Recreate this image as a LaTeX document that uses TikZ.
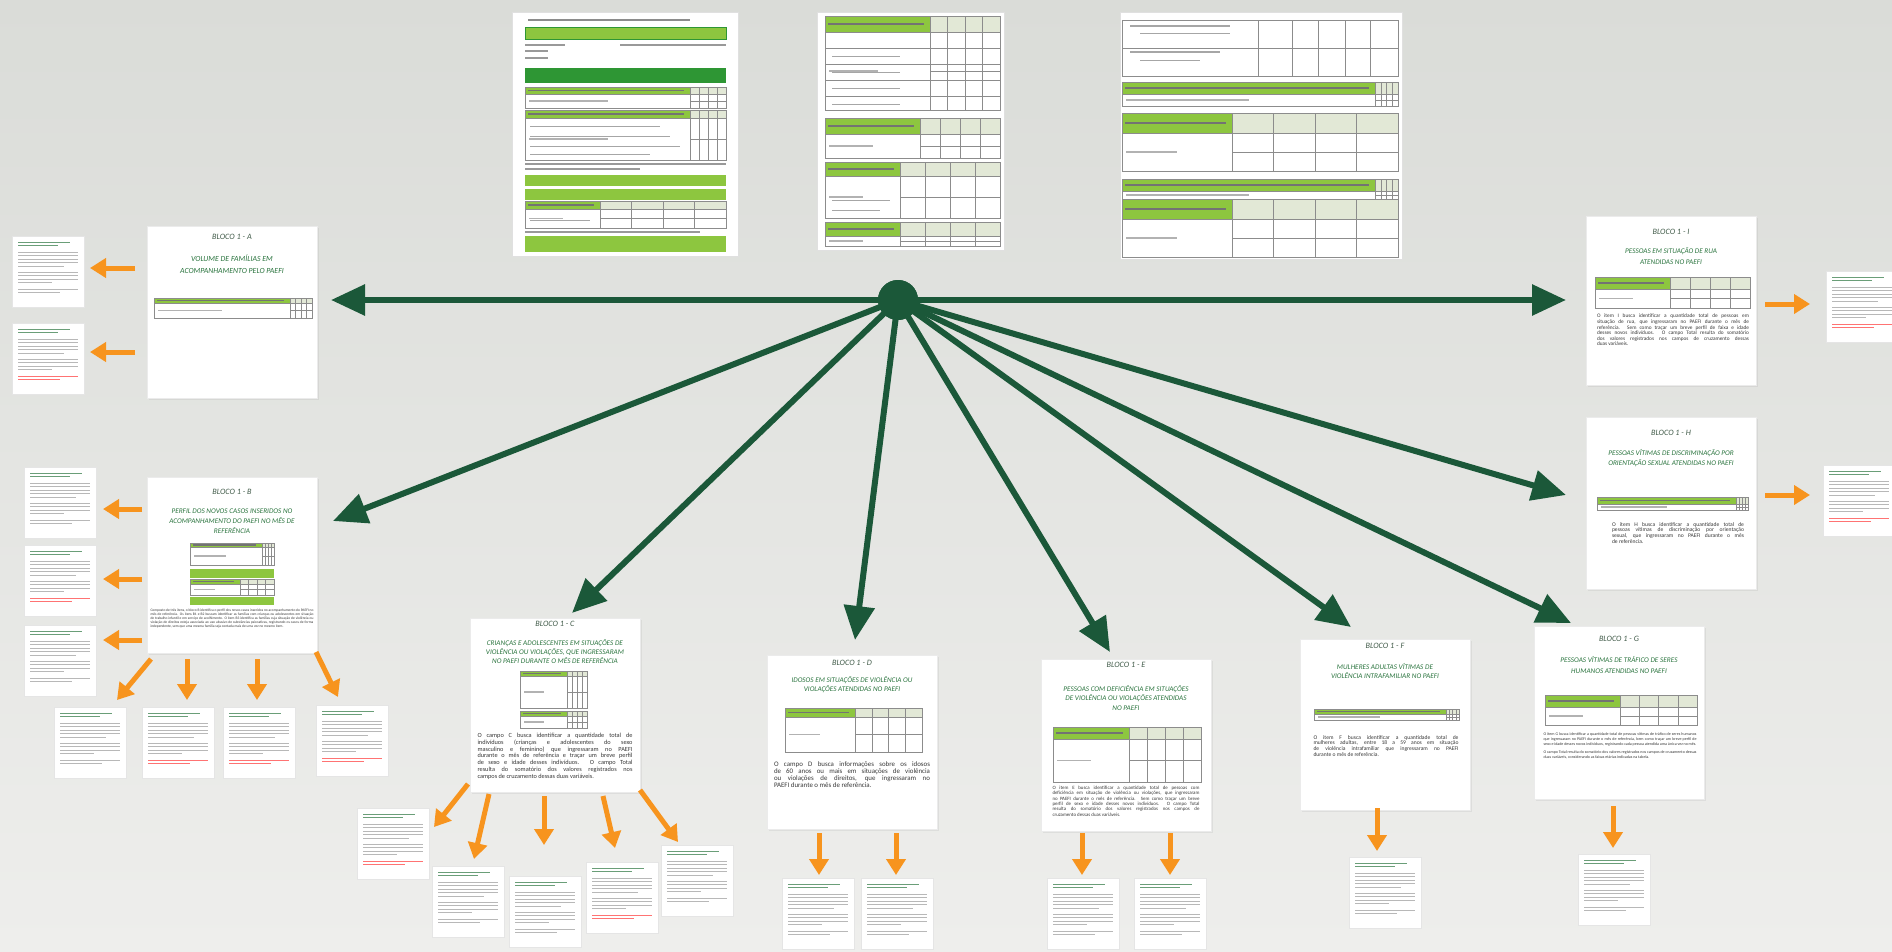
\documentclass[tikz,border=0pt]{standalone}
\usepackage{fontspec}
\setmainfont{Carlito}
\usetikzlibrary{positioning,arrows.meta,calc,shadows}

\definecolor{hubgreen}{RGB}{27,88,57}
\definecolor{titlegreen}{RGB}{42,116,62}
\definecolor{labelgray}{RGB}{66,92,74}
\definecolor{tabgreen}{RGB}{141,198,63}
\definecolor{darkgreen}{RGB}{46,150,52}
\definecolor{cellbeige}{RGB}{226,232,214}
\definecolor{arroworange}{RGB}{247,148,30}
\definecolor{bgtop}{RGB}{218,220,216}
\definecolor{bgbottom}{RGB}{238,238,236}

% small table with a green header
\newcommand{\gtable}[6]{%
  \fill[white] (#1,#2) rectangle (#5,#6);
  \fill[tabgreen] (#1,#2) rectangle (#3,#4);
  \fill[cellbeige] (#3,#2) rectangle (#5,#4);
  \draw[tabtext] ({#1+3},{(#2+#4)/2}) -- ({#3-6},{(#2+#4)/2});
  \draw[tabtext, black!30] ({#1+4},{(#4+#6)/2}) -- ({(#1+#3)/2},{(#4+#6)/2});
  \foreach \f in {0.25,0.5,0.75}
    \draw[tabrule] ({#3+\f*(#5-#3)},#2) -- ({#3+\f*(#5-#3)},#6);
  \draw[tabrule] (#3,{(#4+#6)/2}) -- (#5,{(#4+#6)/2});
  \draw[tabrule] (#1,#2) rectangle (#5,#6);
  \draw[tabrule] (#1,#4) -- (#5,#4);
  \draw[tabrule] (#3,#2) -- (#3,#6);
}

% thumbnail of a text page
\newcommand{\thumb}[4][black!28]{%
  \node[thumbbox] (#2) at (#3,#4) {};
  \foreach \k/\w in {6/52,9.5/40}
    \draw[thumbline, titlegreen!70] ($(#2.north west)+(6,\k)$) -- ++(\w,0);
  \foreach \k/\w in {16/60,19.5/60,23/60,26.5/60,30/46,36/60,39.5/60,43/60,46.5/34}
    \draw[thumbline] ($(#2.north west)+(6,\k)$) -- ++(\w,0);
  \foreach \k/\w in {53/60,56.5/42}
    \draw[thumbline, #1] ($(#2.north west)+(6,\k)$) -- ++(\w,0);
}

\begin{document}
\begin{tikzpicture}[x=1pt, y=-1pt,
    card/.style={draw=black!8, fill=white, minimum width=170pt, inner sep=0pt,
      drop shadow={opacity=0.12, shadow xshift=1.5pt, shadow yshift=-1.5pt}},
    blabel/.style={font=\fontsize{8.2}{9}\selectfont\itshape, text=labelgray},
    btitle/.style={font=\fontsize{7.2}{9.8}\selectfont\itshape, text=titlegreen, align=center, inner sep=0pt},
    body/.style={text=black!78, align=justify, inner sep=0pt, anchor=north},
    thumbbox/.style={draw=black!10, fill=white, minimum width=72pt, minimum height=71pt,
      anchor=north west, inner sep=0pt},
    thumbline/.style={line width=0.9pt, black!28},
    tabrule/.style={line width=0.5pt, black!45},
    tabtext/.style={line width=1.2pt, black!55},
    docline/.style={line width=1pt, black!35},
    docbox/.style={draw=black!12, fill=white, anchor=north west, inner sep=0pt},
    bigarrow/.style={line width=6pt, hubgreen, -{Triangle[length=34pt,width=30pt]}},
    oarrow/.style={line width=5pt, arroworange, -{Triangle[length=16pt,width=19pt]}}
  ]
  \useasboundingbox (0,0) rectangle (1892,951);
  \shade[top color=bgtop, bottom color=bgbottom] (0,0) rectangle (1892,951);

  %--- form pages on top ---
  \node[docbox, minimum width=226pt, minimum height=244pt] (doc1) at (512,12) {};
  \draw[tabtext, black!45] (528,20) -- (690,20);
  \draw[darkgreen, fill=tabgreen] (525,27) rectangle (726,39);
  \draw[tabtext, black!40] (525,45) -- (565,45) (620,45) -- (726,45) (525,51) -- (548,51) (525,58) -- (548,58);
  \fill[darkgreen] (525,68) rectangle (726,83);
  \gtable{525}{87}{690}{94}{726}{108}
  \gtable{525}{110}{690}{118}{726}{160}
  \draw[docline] (530,126) -- (660,126) (530,136) -- (670,136) (530,146) -- (680,146) (530,154) -- (650,154);
  \draw[tabtext, black!40] (525,164) -- (726,164) (525,169) -- (640,169);
  \fill[tabgreen] (525,175) rectangle (726,186);
  \fill[tabgreen] (525,189) rectangle (726,200);
  \gtable{525}{201}{600}{209}{726}{228}
  \draw[docline] (530,220) -- (590,220);
  \draw[tabtext, black!40] (525,232) -- (700,232);
  \fill[tabgreen] (525,236) rectangle (726,252);

  \node[docbox, minimum width=187pt, minimum height=238pt] (doc2) at (817,12) {};
  \gtable{825}{16}{930}{32}{1000}{110}
  \foreach \r in {48,64,80,96}
    \draw[tabrule] (825,\r) -- (1000,\r);
  \draw[docline] (832,56) -- (900,56) (832,72) -- (900,72) (832,88) -- (900,88) (832,104) -- (900,104);
  \gtable{825}{118}{920}{134}{1000}{158}
  \gtable{825}{162}{900}{176}{1000}{218}
  \draw[docline] (832,200) -- (890,200) (832,210) -- (880,210);
  \gtable{825}{222}{900}{236}{1000}{246}

  \node[docbox, minimum width=282pt, minimum height=247pt] (doc3) at (1120,12) {};
  \draw[tabrule] (1122,20) rectangle (1398,76);
  \foreach \c in {1258,1292,1318,1345,1370}
    \draw[tabrule] (\c,20) -- (\c,76);
  \draw[tabrule] (1122,48) -- (1398,48);
  \draw[tabtext, black!35] (1130,26) -- (1230,26) (1130,52) -- (1220,52);
  \draw[docline] (1140,33) -- (1230,33) (1140,60) -- (1200,60);
  \gtable{1122}{82}{1375}{94}{1398}{106}
  \gtable{1122}{113}{1232}{133}{1398}{171}
  \gtable{1122}{179}{1375}{191}{1398}{199}
  \gtable{1122}{199}{1232}{219}{1398}{257}

  %--- side pages ---
  \thumb{ta1}{12}{236}
  \thumb[red!55]{ta2}{12}{323}
  \thumb{tb1}{24}{467}
  \thumb[red!55]{tb2}{24}{545}
  \thumb{tb3}{24}{625}
  \thumb{tb4}{54}{707}
  \thumb[red!55]{tb5}{142}{707}
  \thumb[red!55]{tb6}{223}{707}
  \thumb[red!55]{tb7}{316}{705}
  \thumb[red!55]{tc1}{357}{808}
  \thumb{tc2}{432}{866}
  \thumb{tc3}{509}{876}
  \thumb[red!55]{tc4}{586}{862}
  \thumb{tc5}{661}{845}
  \thumb{td1}{782}{878}
  \thumb{td2}{861}{878}
  \thumb{te1}{1047}{878}
  \thumb{te2}{1134}{878}
  \thumb{tf1}{1349}{857}
  \thumb{tg1}{1578}{854}
  \thumb[red!55]{ti1}{1826}{271}
  \thumb[red!55]{th1}{1823}{465}

  %--- cards ---
  \node[card, minimum height=172pt] (blocoA) at (232,312) {};
  \node[card, minimum height=176pt] (blocoB) at (232,565) {};
  \node[card, minimum height=174pt] (blocoC) at (555,705) {};
  \node[card, minimum height=174pt] (blocoD) at (852,742) {};
  \node[card, minimum height=172pt] (blocoE) at (1126,745) {};
  \node[card, minimum height=171pt] (blocoF) at (1385,725) {};
  \node[card, minimum height=173pt] (blocoG) at (1619,713) {};
  \node[card, minimum height=172pt] (blocoH) at (1671,503) {};
  \node[card, minimum height=169pt] (blocoI) at (1671,301) {};

  %--- bloco A ---
  \node[blabel] (labA) at (232,237) {BLOCO 1 - A};
  \node[btitle, font=\fontsize{7.8}{12}\selectfont\itshape] (titA) at (232,264)
    {VOLUME DE FAMÍLIAS EM\\ACOMPANHAMENTO PELO PAEFI};
  \gtable{154}{298}{290}{303}{312}{318}

  %--- bloco B ---
  \node[blabel] (labB) at (232,492) {BLOCO 1 - B};
  \node[btitle] (titB) at (232,521)
    {PERFIL DOS NOVOS CASOS INSERIDOS NO\\ACOMPANHAMENTO DO PAEFI NO MÊS DE\\REFERÊNCIA};
  \gtable{190}{543}{262}{547}{274}{565}
  \fill[tabgreen] (190,569) rectangle (274,578);
  \gtable{190}{579}{240}{584}{274}{595}
  \fill[tabgreen] (190,597) rectangle (274,605);
  \node[body, text width=163pt, font=\fontsize{3.6}{3.9}\selectfont] (txtB) at (232,609)
    {Composto de três itens, o bloco B identifica o perfil dos novos casos inseridos no acompanhamento do PAEFI no mês de referência. Os itens B1 e B2 buscam identificar as famílias com crianças ou adolescentes em situação de trabalho infantil e em serviço de acolhimento. O item B3 identifica as famílias cuja situação de violência ou violação de direitos esteja associada ao uso abusivo de substâncias psicoativas, registrando os casos de forma independente, sem que uma mesma família seja contada mais de uma vez no mesmo item.};

  %--- bloco C ---
  \node[blabel] (labC) at (555,624) {BLOCO 1 - C};
  \node[btitle, font=\fontsize{7.2}{9}\selectfont\itshape] (titC) at (555,652)
    {CRIANÇAS E ADOLESCENTES EM SITUAÇÕES DE\\VIOLÊNCIA OU VIOLAÇÕES, QUE INGRESSARAM\\NO PAEFI DURANTE O MÊS DE REFERÊNCIA};
  \gtable{520}{671}{567}{676}{587}{708}
  \gtable{520}{711}{567}{716}{587}{728}
  \node[body, text width=155pt, font=\fontsize{6.3}{6.8}\selectfont] (txtC) at (555,733)
    {O campo C busca identificar a quantidade total de\linebreak indivíduos (crianças e adolescentes do sexo\linebreak masculino e feminino) que ingressaram no PAEFI\linebreak durante o mês de referência e traçar um breve perfil\linebreak de sexo e idade desses indivíduos. O campo Total\linebreak resulta do somatório dos valores registrados nos\linebreak campos de cruzamento dessas duas variáveis.};

  %--- bloco D ---
  \node[blabel] (labD) at (852,663) {BLOCO 1 - D};
  \node[btitle, font=\fontsize{7.2}{9}\selectfont\itshape] (titD) at (852,685)
    {IDOSOS EM SITUAÇÕES DE VIOLÊNCIA OU\\VIOLAÇÕES ATENDIDAS NO PAEFI};
  \gtable{785}{708}{855}{717}{922}{752}
  \node[body, text width=156pt, font=\fontsize{6.9}{7.3}\selectfont] (txtD) at (852,761)
    {O campo D busca informações sobre os idosos\linebreak de 60 anos ou mais em situações de violência\linebreak ou violações de direitos, que ingressaram no\linebreak PAEFI durante o mês de referência.};

  %--- bloco E ---
  \node[blabel] (labE) at (1126,665) {BLOCO 1 - E};
  \node[btitle] (titE) at (1126,698)
    {PESSOAS COM DEFICIÊNCIA EM SITUAÇÕES\\DE VIOLÊNCIA OU VIOLAÇÕES ATENDIDAS\\NO PAEFI};
  \gtable{1053}{727}{1129}{739}{1201}{782}
  \node[body, text width=147pt, font=\fontsize{4.9}{5.3}\selectfont] (txtE) at (1126,786)
    {O item E busca identificar a quantidade total de pessoas com\linebreak deficiência em situação de violência ou violações, que ingressaram\linebreak no PAEFI durante o mês de referência. Sem como traçar um breve\linebreak perfil de sexo e idade desses novos indivíduos. O campo Total\linebreak resulta do somatório dos valores registrados nos campos de\linebreak cruzamento dessas duas variáveis.};

  %--- bloco F ---
  \node[blabel] (labF) at (1385,646) {BLOCO 1 - F};
  \node[btitle] (titF) at (1385,671)
    {MULHERES ADULTAS VÍTIMAS DE\\VIOLÊNCIA INTRAFAMILIAR NO PAEFI};
  \gtable{1314}{709}{1446}{714}{1459}{720}
  \node[body, text width=145pt, font=\fontsize{5.6}{5.7}\selectfont] (txtF) at (1386,735)
    {O item F busca identificar a quantidade total de\linebreak mulheres adultas, entre 18 a 59 anos em situação\linebreak de violência intrafamiliar que ingressaram no PAEFI\linebreak durante o mês de referência.};

  %--- bloco G ---
  \node[blabel] (labG) at (1619,639) {BLOCO 1 - G};
  \node[btitle, font=\fontsize{7.2}{11}\selectfont\itshape] (titG) at (1619,665)
    {PESSOAS VÍTIMAS DE TRÁFICO DE SERES\\HUMANOS ATENDIDAS NO PAEFI};
  \gtable{1545}{695}{1620}{707}{1697}{725}
  \node[body, text width=153pt, font=\fontsize{4}{4.9}\selectfont] (txtG) at (1620,733)
    {O item G busca identificar a quantidade total de pessoas vítimas de tráfico de seres humanos que ingressaram no PAEFI durante o mês de referência, bem como traçar um breve perfil de sexo e idade desses novos indivíduos, registrando cada pessoa atendida uma única vez no mês.\par\vspace{3pt}
     O campo Total resulta do somatório dos valores registrados nos campos de cruzamento dessas duas variáveis, considerando as faixas etárias indicadas na tabela.};

  %--- bloco H ---
  \node[blabel] (labH) at (1671,433) {BLOCO 1 - H};
  \node[btitle, font=\fontsize{7.2}{10.5}\selectfont\itshape] (titH) at (1671,458)
    {PESSOAS VÍTIMAS DE DISCRIMINAÇÃO POR\\ORIENTAÇÃO SEXUAL ATENDIDAS NO PAEFI};
  \gtable{1597}{497}{1736}{504}{1748}{510}
  \node[body, text width=132pt, font=\fontsize{5.6}{5.8}\selectfont] (txtH) at (1678,522)
    {O item H busca identificar a quantidade total de\linebreak pessoas vítimas de discriminação por orientação\linebreak sexual, que ingressaram no PAEFI durante o mês\linebreak de referência.};

  %--- bloco I ---
  \node[blabel] (labI) at (1671,232) {BLOCO 1 - I};
  \node[btitle, font=\fontsize{7.2}{10.5}\selectfont\itshape] (titI) at (1671,256)
    {PESSOAS EM SITUAÇÃO DE RUA\\ATENDIDAS NO PAEFI};
  \gtable{1595}{277}{1670}{289}{1750}{308}
  \node[body, text width=152pt, font=\fontsize{5.3}{5.6}\selectfont] (txtI) at (1673,314)
    {O item I busca identificar a quantidade total de pessoas em\linebreak situação de rua, que ingressaram no PAEFI durante o mês de\linebreak referência. Sem como traçar um breve perfil de faixa e idade\linebreak desses novos indivíduos. O campo Total resulta do somatório\linebreak dos valores registrados nos campos de cruzamento dessas\linebreak duas variáveis.};

  %--- orange arrows ---
  \foreach \n/\sx/\sy/\ex/\ey in {a1/135/268/90/268, a2/135/352/90/352,
      b1/142/509/103/509, b2/142/579/103/579, b3/142/640/103/640,
      b4/151/659/117/700, b5/187/659/187/700, b6/257/659/257/700, b7/316/652/338/697,
      c1/468/784/434/827, c2/489/794/474/859, c3/544/796/544/845, c4/603/796/615/848, c5/640/790/678/842,
      d1/819/833/819/875, d2/896/833/896/875, e1/1082/833/1082/875, e2/1170/833/1170/875,
      f1/1377/808/1377/851, g1/1613/806/1613/848, i1/1765/304/1810/304, h1/1765/495/1810/495}
  {
    \coordinate (os\n) at (\sx,\sy);
    \coordinate (oe\n) at (\ex,\ey);
    \draw[oarrow] (os\n) -- (oe\n);
  }

  %--- hub and big arrows ---
  \node[circle, fill=hubgreen, minimum size=40pt, inner sep=0pt] (hub) at (898,300) {};
  \foreach \n/\tx/\ty in {A/331/300, I/1566/300, B/333/521, C/572/613, D/855/640,
      E/1110/652, F/1351/627, G/1571/623, H/1566/495}
  {
    \coordinate (tip\n) at (\tx,\ty);
    \draw[bigarrow] (hub.center) -- (tip\n);
  }
  \fill[hubgreen] (hub) circle (20);
\end{tikzpicture}
\end{document}
